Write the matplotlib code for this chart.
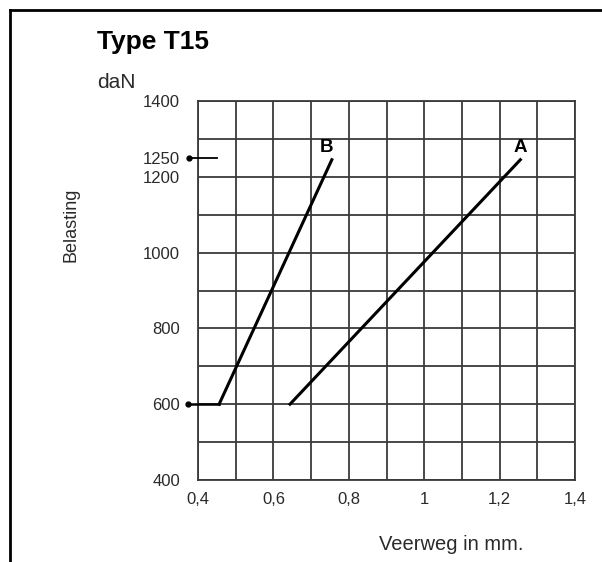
import matplotlib.pyplot as plt
from matplotlib.lines import Line2D

plt.rcParams['font.family'] = ['Liberation Sans', 'DejaVu Sans']

# spring curves: deflection (mm) vs load (daN)
line_a_x = [0.644, 1.255]
line_a_y = [600, 1245]
line_b_x = [0.456, 0.755]
line_b_y = [600, 1245]

x_ticks = [0.4, 0.6, 0.8, 1.0, 1.2, 1.4]
x_labels = ["0,4", "0,6", "0,8", "1", "1,2", "1,4"]
y_ticks = [400, 600, 800, 1000, 1200, 1250, 1400]
y_labels = ["400", "600", "800", "1000", "1200", "1250", "1400"]

grid_col = "#3a3a3a"
text_col = "#2a2a2a"

fig = plt.figure(figsize=(6.02, 5.62), dpi=100)
ax = fig.add_axes([198 / 602, 82 / 562, 377 / 602, 379 / 562])

ax.set_xlim(0.4, 1.4)
ax.set_ylim(400, 1400)

# grid every 0.1 mm and 100 daN
for i in range(11):
    ax.axvline(0.4 + i * 0.1, color=grid_col, lw=1.3, zorder=1)
    ax.axhline(400 + i * 100, color=grid_col, lw=1.3, zorder=1)

for s in ax.spines.values():
    s.set_color(grid_col)
    s.set_linewidth(1.3)

ax.plot(line_a_x, line_a_y, color="black", lw=2.2, zorder=3)
ax.plot(line_b_x, line_b_y, color="black", lw=2.2, zorder=3)

# marker lines for 1250 and 600
ax.plot([0.377, 0.45], [1250, 1250], color="black", lw=1.3, clip_on=False, zorder=3)
ax.plot([0.377], [1250], "o", color="black", ms=3.5, clip_on=False, zorder=3)
ax.plot([0.374, line_b_x[0]], [600, 600], color="black", lw=1.8, clip_on=False, zorder=3)
ax.plot([0.374], [600], "o", color="black", ms=3.5, clip_on=False, zorder=3)

ax.text(0.742, 1277, "B", fontsize=13.5, fontweight="bold", ha="center", va="center")
ax.text(1.254, 1277, "A", fontsize=13.5, fontweight="bold", ha="center", va="center")

ax.set_xticks(x_ticks)
ax.set_xticklabels(x_labels)
ax.set_yticks(y_ticks)
ax.set_yticklabels(y_labels)
ax.tick_params(axis="both", length=0, labelsize=12, labelcolor=text_col)
ax.tick_params(axis="y", pad=13)
ax.tick_params(axis="x", pad=9)

fig.text(97 / 602, 1 - 42 / 562, "Type T15", fontsize=19, fontweight="bold",
         ha="left", va="center")
fig.text(97 / 602, 1 - 82 / 562, "daN", fontsize=15, color=text_col,
         ha="left", va="center")
fig.text(71 / 602, 1 - 225 / 562, "Belasting", fontsize=13, color=text_col,
         rotation=90, ha="center", va="center")
fig.text(451 / 602, 1 - 545 / 562, "Veerweg in mm.", fontsize=14.5, color=text_col,
         ha="center", va="center")

# frame around the page
fig.add_artist(Line2D([10 / 602, 1], [1 - 10 / 562, 1 - 10 / 562],
                      color="black", lw=2, transform=fig.transFigure))
fig.add_artist(Line2D([10 / 602, 10 / 602], [0, 1 - 10 / 562],
                      color="black", lw=2, transform=fig.transFigure))

fig.savefig("out.png", dpi=100)
